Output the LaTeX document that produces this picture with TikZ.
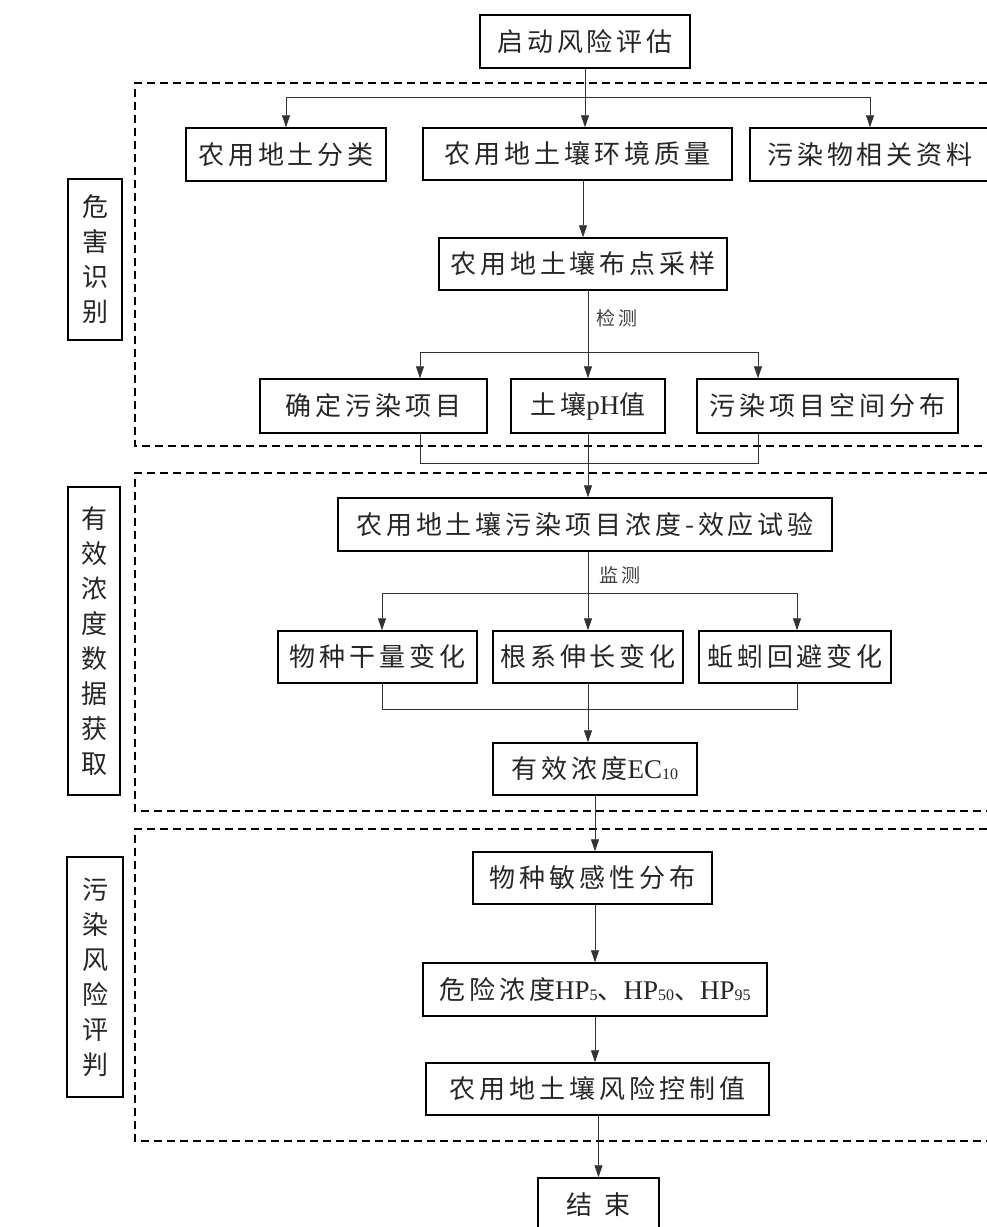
\documentclass[tikz,border=0pt]{standalone}
\usepackage{fontspec}
\usetikzlibrary{arrows.meta,calc}
\newfontfamily\cjk{Noto Sans CJK SC}[LetterSpace=15]
\newfontfamily\cjklab{Noto Sans CJK SC}
\newfontfamily\lat{Liberation Serif}
\newcommand\latx[1]{{\lat\fontsize{27}{28}\selectfont #1}}
\newcommand\subx[1]{\raisebox{-1pt}{\lat\fontsize{16}{16}\selectfont #1}}
\tikzset{
  box/.style={draw=black, line width=1.5pt, inner sep=0pt, text=black!85,
    font=\cjk\fontsize{26}{30}\selectfont},
  lab/.style={draw=black, line width=1.5pt, inner sep=0pt, align=center, text=black!85,
    font=\cjklab\fontsize{26}{35}\selectfont},
  conn/.style={draw=black!80, line width=0.9pt},
  arr/.style={conn, -{Triangle[length=12pt,width=8pt]}},
  sect/.style={draw=black, line width=1.6pt, dash pattern=on 8pt off 5pt},
  note/.style={font=\cjk\fontsize{19}{20}\selectfont, text=black!75, inner sep=0pt}
}
\begin{document}
\begin{tikzpicture}[x=1pt,y=-1pt]
\useasboundingbox[fill=white] (0,0) rectangle (987,1227);
% section frames
\draw[sect] (1000,83) -- (135,83) -- (135,446) -- (1000,446);
\draw[sect] (1000,473) -- (135,473) -- (135,811) -- (1000,811);
\draw[sect] (1000,829) -- (135,829) -- (135,1141) -- (1000,1141);
% side labels
\node[lab, minimum width=54, minimum height=161] (L1) at (95,259.5) {危\\害\\识\\别};
\node[lab, minimum width=52, minimum height=308] (L2) at (94,641) {有\\效\\浓\\度\\数\\据\\获\\取};
\node[lab, minimum width=56, minimum height=240] (L3) at (95,977) {污\\染\\风\\险\\评\\判};
% boxes
\node[box, minimum width=210, minimum height=53] (start) at (585,41.5) {启动风险评估};
\node[box, minimum width=200, minimum height=53] (A) at (286,154.5) {农用地土分类};
\node[box, minimum width=309, minimum height=52] (B) at (577.5,154) {农用地土壤环境质量};
\node[box, minimum width=240, minimum height=53] (C) at (870,154.5) {污染物相关资料};
\node[box, minimum width=288, minimum height=52] (S) at (583,264) {农用地土壤布点采样};
\node[box, minimum width=227, minimum height=54] (D) at (373.5,406) {确定污染项目};
\node[box, minimum width=154, minimum height=54] (E) at (588,406) {土壤\latx{pH}值};
\node[box, minimum width=261, minimum height=54] (F) at (827.5,406) {污染项目空间分布};
\node[box, minimum width=494, minimum height=53] (G) at (585,524.5) {农用地土壤污染项目浓度-效应试验};
\node[box, minimum width=199, minimum height=52] (H) at (377.5,657) {物种干量变化};
\node[box, minimum width=190, minimum height=52] (I) at (588,657) {根系伸长变化};
\node[box, minimum width=192, minimum height=52] (J) at (795,657) {蚯蚓回避变化};
\node[box, minimum width=204, minimum height=52] (K) at (595,769) {有效浓度\latx{EC}\subx{10}};
\node[box, minimum width=239, minimum height=52] (L) at (592.5,878) {物种敏感性分布};
\node[box, minimum width=344, minimum height=53] (M) at (595,989.5) {危险浓度\latx{HP}\subx{5}、\latx{HP}\subx{50}、\latx{HP}\subx{95}};
\node[box, minimum width=343, minimum height=52] (N) at (597.5,1089) {农用地土壤风险控制值};
\node[box, minimum width=121, minimum height=54] (O) at (598.5,1205) {结\hspace{12pt}束};
% notes
\node[note, anchor=west] (n1) at (596,318) {检测};
\node[note, anchor=west] (n2) at (599,575) {监测};
% connectors section 1
\coordinate (br1) at (0,97);
\draw[arr] (start.south) -- (start.south |- B.north);
\draw[conn] (A.north |- br1) -- (C.north |- br1);
\draw[arr] (A.north |- br1) -- (A.north);
\draw[arr] (C.north |- br1) -- (C.north);
\draw[arr] (S.north |- B.south) -- (S.north);
\draw[arr] (E.north |- S.south) -- (E.north);
\coordinate (p1) at (420,352);
\coordinate (p2) at (758,352);
\draw[conn] (p1) -- (p2);
\draw[arr] (p1) -- (p1 |- D.north);
\draw[arr] (p2) -- (p2 |- F.north);
\coordinate (q1) at (420,463);
\coordinate (q2) at (758,463);
\draw[conn] (q1 |- D.south) -- (q1) -- (q2) -- (q2 |- F.south);
\draw[arr] (E.south) -- (E.south |- G.north);
% section 2
\draw[arr] (I.north |- G.south) -- (I.north);
\coordinate (r1) at (382,593);
\coordinate (r2) at (797,593);
\draw[conn] (r1) -- (r2);
\draw[arr] (r1) -- (r1 |- H.north);
\draw[arr] (r2) -- (r2 |- J.north);
\coordinate (s1) at (382,709);
\coordinate (s2) at (797,709);
\draw[conn] (s1 |- H.south) -- (s1) -- (s2) -- (s2 |- J.south);
\draw[arr] (I.south) -- (I.south |- K.north);
% section 3
\draw[arr] (K.south) -- (K.south |- L.north);
\draw[arr] (M.north |- L.south) -- (M.north);
\draw[arr] (M.south) -- (M.south |- N.north);
\draw[arr] (O.north |- N.south) -- (O.north);
\end{tikzpicture}
\end{document}
